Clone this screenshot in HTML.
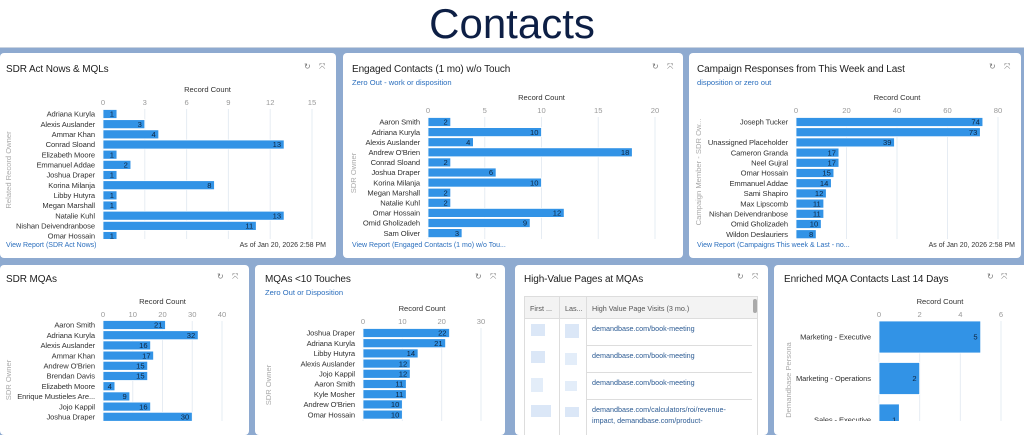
<!DOCTYPE html>
<html><head><meta charset="utf-8">
<style>
body{margin:0;width:1024px;height:421px;overflow:hidden;background:#8eaad0;font-family:"Liberation Sans",sans-serif;position:relative}
.hdr{position:absolute;left:0;top:0;width:1024px;height:47px;background:#fff;border-bottom:1px solid #c9d3e0}
.hdr h1{margin:0;text-align:center;font-weight:normal;font-size:42px;line-height:48px;color:#0d1f45}
.panel{position:absolute;background:#fff;border-radius:4px;overflow:hidden}
.t{position:absolute;font-size:10px;color:#1e1e1e;white-space:nowrap;letter-spacing:-0.1px}
.s{position:absolute;font-size:7.6px;color:#2a6ebd;white-space:nowrap}
.f{position:absolute;font-size:7px;white-space:nowrap}
.ic{position:absolute;font-size:8px;color:#777}
svg{position:absolute;left:0;top:0}
.tbl{position:absolute;border:1px solid #ddd;font-size:7.2px}
</style></head>
<body>
<div class="hdr"><h1>Contacts</h1></div>

<div class="panel" style="left:0;top:53px;width:336px;height:205px">
<div class="t" style="left:6px;top:11px">SDR Act Nows &amp; MQLs</div>
<div class="ic" style="left:304px;top:9px">↻</div><div class="ic" style="left:319px;top:9px">⤧</div>
<div class="f" style="left:6px;top:189px;color:#2a6ebd">View Report (SDR Act Nows)</div>
<div class="f" style="right:10px;top:189px;color:#333">As of Jan 20, 2026 2:58 PM</div>
</div>
<div class="panel" style="left:343px;top:53px;width:340px;height:205px">
<div class="t" style="left:9px;top:11px">Engaged Contacts (1 mo) w/o Touch</div>
<div class="s" style="left:9px;top:25px">Zero Out - work or disposition</div>
<div class="ic" style="left:309px;top:9px">↻</div><div class="ic" style="left:324px;top:9px">⤧</div>
<div class="f" style="left:9px;top:189px;color:#2a6ebd">View Report (Engaged Contacts (1 mo) w/o Tou...</div>
</div>
<div class="panel" style="left:689px;top:53px;width:332px;height:205px">
<div class="t" style="left:8px;top:11px">Campaign Responses from This Week and Last</div>
<div class="s" style="left:8px;top:25px">disposition or zero out</div>
<div class="ic" style="left:300px;top:9px">↻</div><div class="ic" style="left:315px;top:9px">⤧</div>
<div class="f" style="left:8px;top:189px;color:#2a6ebd">View Report (Campaigns This week &amp; Last - no...</div>
<div class="f" style="right:6px;top:189px;color:#333">As of Jan 20, 2026 2:58 PM</div>
</div>

<div class="panel" style="left:0;top:265px;width:249px;height:170px">
<div class="t" style="left:6px;top:9px">SDR MQAs</div>
<div class="ic" style="left:217px;top:7px">↻</div><div class="ic" style="left:232px;top:7px">⤧</div>
</div>
<div class="panel" style="left:255px;top:265px;width:250px;height:170px">
<div class="t" style="left:10px;top:9px">MQAs &lt;10 Touches</div>
<div class="s" style="left:10px;top:23px">Zero Out or Disposition</div>
<div class="ic" style="left:220px;top:7px">↻</div><div class="ic" style="left:235px;top:7px">⤧</div>
</div>
<div class="panel" style="left:515px;top:265px;width:253px;height:170px">
<div class="t" style="left:9px;top:9px">High-Value Pages at MQAs</div>
<div class="ic" style="left:222px;top:7px">↻</div><div class="ic" style="left:237px;top:7px">⤧</div>
<div class="tbl" style="left:9px;top:31px;width:232px;height:140px">
<div style="position:absolute;left:0;top:0;width:232px;height:21px;background:#f3f3f3;border-bottom:1px solid #ddd"></div>
<div style="position:absolute;left:5px;top:7px;color:#555">First ...</div>
<div style="position:absolute;left:34px;top:0;width:1px;height:140px;background:#ddd"></div>
<div style="position:absolute;left:40px;top:7px;color:#555">Las...</div>
<div style="position:absolute;left:61px;top:0;width:1px;height:140px;background:#ddd"></div>
<div style="position:absolute;left:67px;top:7px;color:#555">High Value Page Visits (3 mo.)</div>
<div style="position:absolute;left:228px;top:2px;width:4px;height:14px;background:#aaa;border-radius:2px"></div>
<div style="position:absolute;left:61px;top:48px;width:166px;height:1px;background:#ddd"></div>
<div style="position:absolute;left:61px;top:75px;width:166px;height:1px;background:#ddd"></div>
<div style="position:absolute;left:61px;top:102px;width:166px;height:1px;background:#ddd"></div>
<div style="position:absolute;left:67px;top:27px;color:#2c5b93">demandbase.com/book-meeting</div>
<div style="position:absolute;left:67px;top:54px;color:#2c5b93">demandbase.com/book-meeting</div>
<div style="position:absolute;left:67px;top:81px;color:#2c5b93">demandbase.com/book-meeting</div>
<div style="position:absolute;left:67px;top:107px;color:#2c5b93;line-height:11px">demandbase.com/calculators/roi/revenue-<br>impact, demandbase.com/product-</div>
<div style="position:absolute;left:6px;top:27px;width:14px;height:12px;background:#dbe7f7"></div>
<div style="position:absolute;left:40px;top:27px;width:14px;height:14px;background:#dbe7f7"></div>
<div style="position:absolute;left:6px;top:54px;width:14px;height:12px;background:#dbe7f7"></div>
<div style="position:absolute;left:40px;top:56px;width:12px;height:12px;background:#e3edf9"></div>
<div style="position:absolute;left:6px;top:81px;width:12px;height:14px;background:#e3edf9"></div>
<div style="position:absolute;left:40px;top:84px;width:12px;height:10px;background:#e3edf9"></div>
<div style="position:absolute;left:6px;top:108px;width:20px;height:12px;background:#dbe7f7"></div>
<div style="position:absolute;left:40px;top:110px;width:14px;height:10px;background:#dbe7f7"></div>
</div>
</div>
<div class="panel" style="left:774px;top:265px;width:260px;height:170px">
<div class="t" style="left:10px;top:9px">Enriched MQA Contacts Last 14 Days</div>
<div class="ic" style="left:213px;top:7px">↻</div><div class="ic" style="left:227px;top:7px">⤧</div>
</div>

<svg id="charts" width="1024" height="421"></svg>

<script>
// Chart 1: SDR Act Nows & MQLs
const c1Categories = ["Adriana Kuryla","Alexis Auslander","Ammar Khan","Conrad Sloand","Elizabeth Moore","Emmanuel Addae","Joshua Draper","Korina Milanja","Libby Hutyra","Megan Marshall","Natalie Kuhl","Nishan Deivendranbose","Omar Hossain"];
const c1Values = [1,3,4,13,1,2,1,8,1,1,13,11,1];
const c1Ticks = [0,3,6,9,12,15];
// Chart 2: Engaged Contacts
const c2Categories = ["Aaron Smith","Adriana Kuryla","Alexis Auslander","Andrew O'Brien","Conrad Sloand","Joshua Draper","Korina Milanja","Megan Marshall","Natalie Kuhl","Omar Hossain","Omid Gholizadeh","Sam Oliver"];
const c2Values = [2,10,4,18,2,6,10,2,2,12,9,3];
const c2Ticks = [0,5,10,15,20];
// Chart 3: Campaign Responses
const c3Categories = ["Joseph Tucker","","Unassigned Placeholder","Cameron Granda","Neel Gujral","Omar Hossain","Emmanuel Addae","Sami Shapiro","Max Lipscomb","Nishan Deivendranbose","Omid Gholizadeh","Wildon Deslauriers"];
const c3Values = [74,73,39,17,17,15,14,12,11,11,10,8];
const c3Ticks = [0,20,40,60,80];
// Chart 4: SDR MQAs
const c4Categories = ["Aaron Smith","Adriana Kuryla","Alexis Auslander","Ammar Khan","Andrew O'Brien","Brendan Davis","Elizabeth Moore","Enrique Mustieles Are...","Jojo Kappil","Joshua Draper"];
const c4Values = [21,32,16,17,15,15,4,9,16,30];
const c4Ticks = [0,10,20,30,40];
// Chart 5: MQAs <10 Touches
const c5Categories = ["Joshua Draper","Adriana Kuryla","Libby Hutyra","Alexis Auslander","Jojo Kappil","Aaron Smith","Kyle Mosher","Andrew O'Brien","Omar Hossain"];
const c5Values = [22,21,14,12,12,11,11,10,10];
const c5Ticks = [0,10,20,30];
// Chart 6: Enriched MQA Contacts
const c6Categories = ["Marketing - Executive","Marketing - Operations","Sales - Executive"];
const c6Values = [5,2,1];
const c6Ticks = [0,2,4,6];

const svg = document.getElementById('charts');
const NS = 'http://www.w3.org/2000/svg';
const FS = 7.6;
function mk(tag, attrs, parent){const e=document.createElementNS(NS,tag);for(const k in attrs)e.setAttribute(k,attrs[k]);parent.appendChild(e);return e;}

function drawChart(id, cats, vals, ticks, L){
  const tMax = ticks[ticks.length-1];
  const xs = v => L.x0 + (v - ticks[0])/(tMax - ticks[0])*(L.x1 - L.x0);
  const ys = i => L.y0 + i*L.step;
  const cp = mk('clipPath',{id:'clip'+id},svg);
  mk('rect',{x:L.cx,y:L.cy,width:L.cw,height:L.ch},cp);
  const g = mk('g',{'clip-path':'url(#clip'+id+')'},svg);
  
  
  const t = mk('text',{x:(L.x0+L.x1)/2,y:L.rcY,'text-anchor':'middle','font-size':FS,fill:'#333'},g);
  t.textContent='Record Count';
  
  
  const gridBottom = ys(cats.length-1)+L.step/2+2;
  ticks.forEach(v=>{
    const x=xs(v);
    const gl=mk('line',{x1:x,x2:x,y1:L.tickY+4,y2:gridBottom,stroke:'#e6ecf3','stroke-width':1},g);
    
    
    const tl=mk('text',{x:x,y:L.tickY,'text-anchor':'middle','font-size':FS,fill:'#999'},g);
    tl.textContent=v;
    
    
  });
  const ya=mk('text',{x:L.axX,y:L.axY,'text-anchor':'middle','font-size':FS,fill:'#aaa',transform:'rotate(-90 '+L.axX+' '+L.axY+')'},g);
  ya.textContent=L.axTitle;
  
  
  cats.forEach((c,i)=>{
    const cy=ys(i);
    const lb=mk('text',{x:L.labX,y:cy+2.7,'text-anchor':'end','font-size':FS,fill:'#333','letter-spacing':'-0.1'},g);
    lb.textContent=c;
    
    
    const w=xs(vals[i])-xs(0);
    const b=mk('rect',{x:xs(0),y:cy-L.bh/2,width:w,height:L.bh,fill:'#3293e6',stroke:'#fff','stroke-width':0.8},g);
    
    
    const vl=mk('text',{x:xs(vals[i])-3,y:cy+2.7,'text-anchor':'end','font-size':FS,fill:'#0d2540'},g);
    vl.textContent=vals[i];
    
    
  });
}

drawChart('sdr-act-nows',c1Categories,c1Values,c1Ticks,{x0:103,x1:312,y0:114,step:10.17,bh:9,labX:95,rcY:92,tickY:105,axX:11,axY:170,axTitle:'Related Record Owner',cx:0,cy:53,cw:336,ch:186});
drawChart('engaged-contacts',c2Categories,c2Values,c2Ticks,{x0:428,x1:655,y0:122,step:10.1,bh:9,labX:420,rcY:100,tickY:113,axX:356,axY:173,axTitle:'SDR Owner',cx:343,cy:53,cw:340,ch:186});
drawChart('campaign-responses',c3Categories,c3Values,c3Ticks,{x0:796,x1:998,y0:122,step:10.2,bh:9,labX:788,rcY:100,tickY:113,axX:701,axY:172,axTitle:'Campaign Member - SDR Ow...',cx:689,cy:53,cw:332,ch:186});
drawChart('sdr-mqas',c4Categories,c4Values,c4Ticks,{x0:103,x1:222,y0:325,step:10.2,bh:9,labX:95,rcY:304,tickY:317,axX:11,axY:380,axTitle:'SDR Owner',cx:0,cy:265,cw:249,ch:160});
drawChart('mqas-under-10',c5Categories,c5Values,c5Ticks,{x0:363,x1:481,y0:333,step:10.2,bh:9,labX:355,rcY:311,tickY:324,axX:271,axY:385,axTitle:'SDR Owner',cx:255,cy:265,cw:250,ch:160});
drawChart('enriched-mqa',c6Categories,c6Values,c6Ticks,{x0:879,x1:1001,y0:337,step:41.5,bh:32,labX:871,rcY:304,tickY:317,axX:791,axY:380,axTitle:'Demandbase Persona',cx:774,cy:265,cw:250,ch:160});
</script>
</body></html>
